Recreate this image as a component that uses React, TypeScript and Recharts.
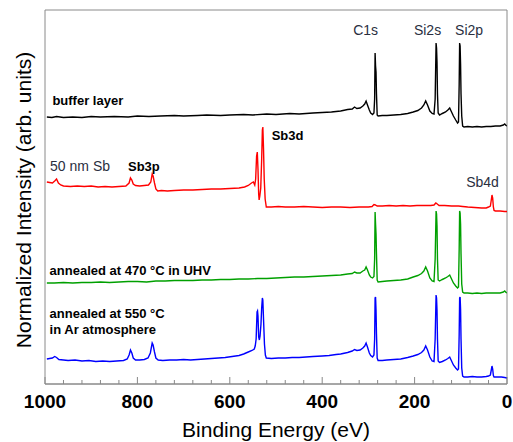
import { LineChart, Line, XAxis, YAxis, ReferenceArea, ReferenceDot } from 'recharts'

// [binding energy (eV), normalized intensity (arb. units, stacked offsets)]
type Pt = [number, number]

const bufferLayer: Pt[] = [
  [996, 267], [985, 266.5], [975, 267.5], [960, 266.5], [940, 267], [920, 266.5], [900, 267.5],
  [880, 267], [850, 267.5], [820, 267], [800, 268], [775, 267.5], [750, 268], [720, 268.5],
  [700, 268], [670, 268.5], [650, 269], [620, 268.5], [600, 269], [570, 269.5], [550, 269],
  [520, 270], [500, 269.5], [470, 270.5], [450, 270], [420, 271], [400, 271.5], [380, 272],
  [360, 273], [345, 274.5], [335, 275], [330, 277], [325, 275.5], [318, 276], [312, 278],
  [308, 280], [305, 283], [302, 279], [298, 274], [295, 271], [291, 269.5], [288, 271],
  [286.5, 285], [285.5, 331], [284.5, 318], [283.5, 312], [282.5, 290], [281, 269], [279, 268],
  [270, 268.5], [260, 268.5], [245, 269], [230, 269.5], [215, 270.5], [203, 272], [193, 273.5],
  [185, 276], [180, 279], [176, 283], [172, 279], [167, 273], [162, 270.5], [158, 270],
  [155.5, 285], [153.5, 341], [152.5, 336], [151.5, 322], [150.5, 290], [149, 271], [146, 269],
  [140, 270.5], [133, 272], [128, 274], [124, 276], [121, 273], [116, 268], [111, 264],
  [107, 261], [105, 262], [103.5, 300], [102.5, 341], [101.5, 338], [100.5, 320], [99.5, 290],
  [98, 268], [96, 258], [93, 257], [85, 257.5], [75, 257], [65, 257.5], [55, 257], [45, 257.5],
  [35, 257.5], [25, 258], [15, 258], [8, 259], [5, 260], [2, 258.5], [0, 258],
]

const sb50nm: Pt[] = [
  [996, 202], [990, 201.5], [984, 201], [979, 203], [975, 205], [971, 201], [966, 199],
  [960, 198], [945, 197.5], [930, 198], [915, 197.5], [900, 198], [885, 197], [870, 197.5],
  [855, 197], [840, 197.5], [825, 198], [818, 201], [815, 206], [812, 204], [809, 200],
  [804, 198.5], [795, 198], [785, 198.5], [776, 199], [771, 202], [768, 210], [766, 208],
  [763, 201], [760, 195], [756, 193], [748, 193.5], [735, 193], [720, 193.5], [700, 194],
  [680, 194], [660, 194.5], [640, 195], [620, 195], [600, 195.5], [580, 196], [568, 197],
  [560, 198.5], [553, 201], [549, 202], [546, 199], [544, 205], [542, 228], [540.5, 232],
  [539, 215], [537.5, 190], [536.5, 184], [535, 188], [533, 196], [531, 225], [529.5, 254],
  [528.5, 257], [527, 235], [525.5, 205], [523.5, 185], [521, 177], [510, 177], [495, 177.5],
  [480, 177], [460, 177], [440, 177.5], [420, 177], [400, 176.5], [380, 177], [360, 177],
  [340, 176.5], [320, 177], [300, 177], [292, 177.5], [288, 179.5], [285, 179], [281, 178],
  [270, 178], [255, 178.5], [240, 178], [225, 178.5], [210, 178], [195, 178.5], [180, 178.5],
  [165, 178.5], [158, 179], [154, 181], [151, 180], [147, 178.5], [135, 178.5], [120, 178],
  [105, 178], [96, 177.5], [85, 177], [70, 176.5], [55, 176], [45, 176], [40, 177],
  [36, 178], [34, 184], [32.5, 189], [31, 186], [29.5, 177], [28, 173.5], [25, 173],
  [15, 173], [5, 172.5], [0, 172.5],
]

const annealedUhv: Pt[] = [
  [996, 101], [980, 101], [960, 101.5], [940, 101], [920, 101.5], [900, 101.5], [880, 102],
  [860, 101.5], [840, 102], [820, 102.5], [800, 102.5], [780, 102], [760, 103], [740, 103],
  [720, 103.5], [700, 103.5], [680, 103.5], [660, 104], [640, 104], [620, 104.5], [600, 104.5],
  [580, 105], [560, 105], [540, 105.5], [520, 105.5], [500, 106], [480, 106.5], [460, 107],
  [440, 107], [420, 107.5], [400, 108], [380, 108.5], [360, 109], [345, 110], [335, 110.5],
  [330, 112], [325, 111], [318, 111], [312, 113], [308, 114], [305, 117], [302, 114],
  [298, 109], [295, 107], [291, 106], [288, 107.5], [286.5, 125], [285.5, 172], [284.5, 160],
  [283.5, 150], [282.5, 130], [281, 104], [279, 102], [270, 102.5], [260, 103], [245, 103.5],
  [230, 104], [215, 105], [203, 107], [193, 108.5], [185, 110.5], [180, 113], [176, 117],
  [172, 113], [167, 106], [162, 103], [158, 102.5], [155.5, 125], [153.5, 173], [152.5, 170],
  [151.5, 158], [150.5, 125], [149, 104], [146, 103], [140, 104.5], [133, 106], [128, 107.5],
  [124, 109], [121, 106], [116, 101], [111, 98], [107, 96], [105, 97], [103.5, 135],
  [102.5, 173], [101.5, 171], [100.5, 160], [99.5, 130], [98, 100], [96, 92], [93, 91],
  [85, 91], [75, 90.5], [65, 91], [55, 90.5], [45, 91], [35, 91], [25, 91], [15, 91],
  [8, 92], [5, 93], [2, 91.5], [0, 91],
]

const annealedAr: Pt[] = [
  [996, 25], [990, 25.5], [984, 26], [979, 27.5], [975, 26.5], [970, 24.5], [960, 24],
  [950, 23.5], [935, 24], [920, 23], [905, 23.5], [890, 22.5], [875, 23], [860, 22.5],
  [845, 23], [830, 23.5], [822, 25], [818, 29], [815, 34], [812, 31], [809, 26], [804, 24],
  [795, 24], [785, 24.5], [777, 26], [772, 31], [768, 41], [766, 39], [763, 32], [760, 26],
  [755, 24], [745, 23.5], [730, 24], [715, 24], [700, 24.5], [685, 24], [670, 24.5],
  [655, 25], [640, 25.5], [625, 26], [610, 26.5], [595, 27.5], [580, 28.5], [570, 30],
  [560, 32], [552, 33.5], [547, 35], [545, 38], [543, 45], [541, 72], [540, 73], [539, 68],
  [537.5, 47], [536, 44], [534.5, 48], [532.5, 60], [531, 76], [529.5, 86], [528.5, 84],
  [527, 65], [525, 40], [523, 29], [521, 26], [510, 25.5], [495, 26], [480, 26], [465, 26.5],
  [450, 26.5], [435, 27], [420, 27.5], [400, 28], [385, 28.5], [370, 29.5], [360, 30],
  [345, 31.5], [335, 33], [330, 34.5], [325, 33.5], [318, 34], [312, 36], [308, 38],
  [305, 41], [302, 37], [298, 31], [295, 28.5], [291, 27], [288, 29], [286.5, 45],
  [285.5, 86], [284.5, 87], [283.5, 74], [282.5, 50], [281, 26], [279, 23.5], [270, 23.5],
  [260, 24], [245, 24.5], [230, 25], [215, 26.5], [203, 28], [193, 29.5], [185, 31.5],
  [180, 34], [176, 38], [172, 34], [167, 27], [162, 23], [158, 22.5], [155.5, 45],
  [153.5, 89], [152.5, 86], [151.5, 74], [150.5, 45], [149, 23], [146, 21.5], [140, 22.5],
  [133, 24], [128, 25.5], [124, 27], [121, 24], [116, 19], [111, 16], [107, 14], [105, 15],
  [103.5, 50], [102.5, 86], [101.5, 87], [100.5, 75], [99.5, 45], [98, 16], [96, 8],
  [93, 7], [85, 7], [75, 7.5], [65, 7], [55, 7], [45, 7.5], [40, 8], [36, 9], [34, 14],
  [32.5, 18], [31, 15], [29.5, 8.5], [28, 7], [20, 7], [12, 7], [5, 6.5], [0, 6],
]

const energyTicks = [
  1000, 960, 920, 880, 840, 800, 760, 720, 680, 640, 600, 560, 520, 480, 440, 400, 360, 320,
  280, 240, 200, 160, 120, 80, 40, 0,
]
const labelledTicks = [1000, 800, 600, 400, 200, 0]

const spectrumLabels = [
  { text: 'C1s', e: 306, v: 354, kind: 'peak' },
  { text: 'Si2s', e: 172, v: 354, kind: 'peak' },
  { text: 'Si2p', e: 82, v: 354, kind: 'peak' },
  { text: 'buffer layer', e: 984, v: 284, kind: 'sample' },
  { text: '50 nm Sb', e: 989, v: 218, kind: 'plain' },
  { text: 'Sb3p', e: 786, v: 218, kind: 'boldPeak' },
  { text: 'Sb3d', e: 475, v: 249, kind: 'boldPeak' },
  { text: 'Sb4d', e: 53, v: 202, kind: 'peak' },
  { text: 'annealed at 470 °C in UHV', e: 990, v: 114, kind: 'sample' },
  { text: 'annealed at 550 °C', e: 990, v: 71, kind: 'sample' },
  { text: 'in Ar atmosphere', e: 990, v: 55, kind: 'sample' },
]

const toRows = (pts: Pt[]) => pts.map(([e, v]) => ({ e, v }))

const font = '"Liberation Sans", Arial, sans-serif'

const EnergyTick = (props: any) => {
  const { x, y, payload } = props
  const major = labelledTicks.includes(payload.value)
  return (
    <g>
      <line x1={x} x2={x} y1={y} y2={y - (major ? 7 : 4)} stroke="#888" />
      {major && (
        <text x={x} y={y + 24} textAnchor="middle" fontSize={19} fontWeight="bold" fill="#000" fontFamily={font}>
          {payload.value}
        </text>
      )}
    </g>
  )
}

const labelStyle = (kind: string) => {
  if (kind === 'sample') return { fontSize: 13, fontWeight: 'bold', fill: '#000', anchor: 'start' }
  if (kind === 'plain') return { fontSize: 14, fontWeight: 'normal', fill: '#2a2f3f', anchor: 'start' }
  if (kind === 'boldPeak') return { fontSize: 13, fontWeight: 'bold', fill: '#000', anchor: 'middle' }
  return { fontSize: 14, fontWeight: 'normal', fill: '#2a2f3f', anchor: 'middle' }
}

export default function App() {
  return (
    <div style={{ position: 'absolute', left: 0, top: 0, background: '#fff' }}>
      <LineChart width={513} height={442} margin={{ top: 10, right: 6, left: 0, bottom: 0 }}>
        <XAxis
          dataKey="e"
          type="number"
          domain={[0, 1000]}
          reversed
          ticks={energyTicks}
          interval={0}
          tickSize={0}
          tickMargin={0}
          tickLine={false}
          tick={<EnergyTick />}
          height={58}
          stroke="#888"
          allowDataOverflow
          label={{
            content: (p: any) => (
              <text
                x={p.viewBox.x + p.viewBox.width / 2}
                y={p.viewBox.y + 53}
                textAnchor="middle"
                fontSize={21}
                fill="#000"
                fontFamily={font}
              >
                Binding Energy (eV)
              </text>
            ),
          }}
        />
        <YAxis
          type="number"
          domain={[0, 374]}
          width={45}
          tick={false}
          tickLine={false}
          axisLine={false}
          allowDataOverflow
          label={{
            content: (p: any) => {
              const cx = p.viewBox.x + 23
              const cy = p.viewBox.y + p.viewBox.height / 2 + 3
              return (
                <text
                  x={cx}
                  y={cy}
                  transform={`rotate(-90 ${cx} ${cy})`}
                  textAnchor="middle"
                  dominantBaseline="central"
                  fontSize={21}
                  fill="#000"
                  fontFamily={font}
                >
                  Normalized Intensity (arb. units)
                </text>
              )
            },
          }}
        />
        <ReferenceArea x1={1000} x2={0} y1={0} y2={374} fill="none" fillOpacity={0} stroke="#8a8a8a" />
        <Line data={toRows(bufferLayer)} dataKey="v" stroke="#000" strokeWidth={1.4} dot={false} isAnimationActive={false} />
        <Line data={toRows(sb50nm)} dataKey="v" stroke="#ff0000" strokeWidth={1.4} dot={false} isAnimationActive={false} />
        <Line data={toRows(annealedUhv)} dataKey="v" stroke="#00a000" strokeWidth={1.4} dot={false} isAnimationActive={false} />
        <Line data={toRows(annealedAr)} dataKey="v" stroke="#0000ff" strokeWidth={1.4} dot={false} isAnimationActive={false} />
        {spectrumLabels.map((a) => {
          const s = labelStyle(a.kind)
          return (
            <ReferenceDot
              key={a.text}
              x={a.e}
              y={a.v}
              r={0}
              fill="none"
              stroke="none"
              ifOverflow="visible"
              label={{
                content: (p: any) => (
                  <text
                    x={p.viewBox.x}
                    y={p.viewBox.y}
                    textAnchor={s.anchor}
                    dominantBaseline="central"
                    fontSize={s.fontSize}
                    fontWeight={s.fontWeight}
                    fill={s.fill}
                    fontFamily={font}
                  >
                    {a.text}
                  </text>
                ),
              }}
            />
          )
        })}
      </LineChart>
    </div>
  )
}
